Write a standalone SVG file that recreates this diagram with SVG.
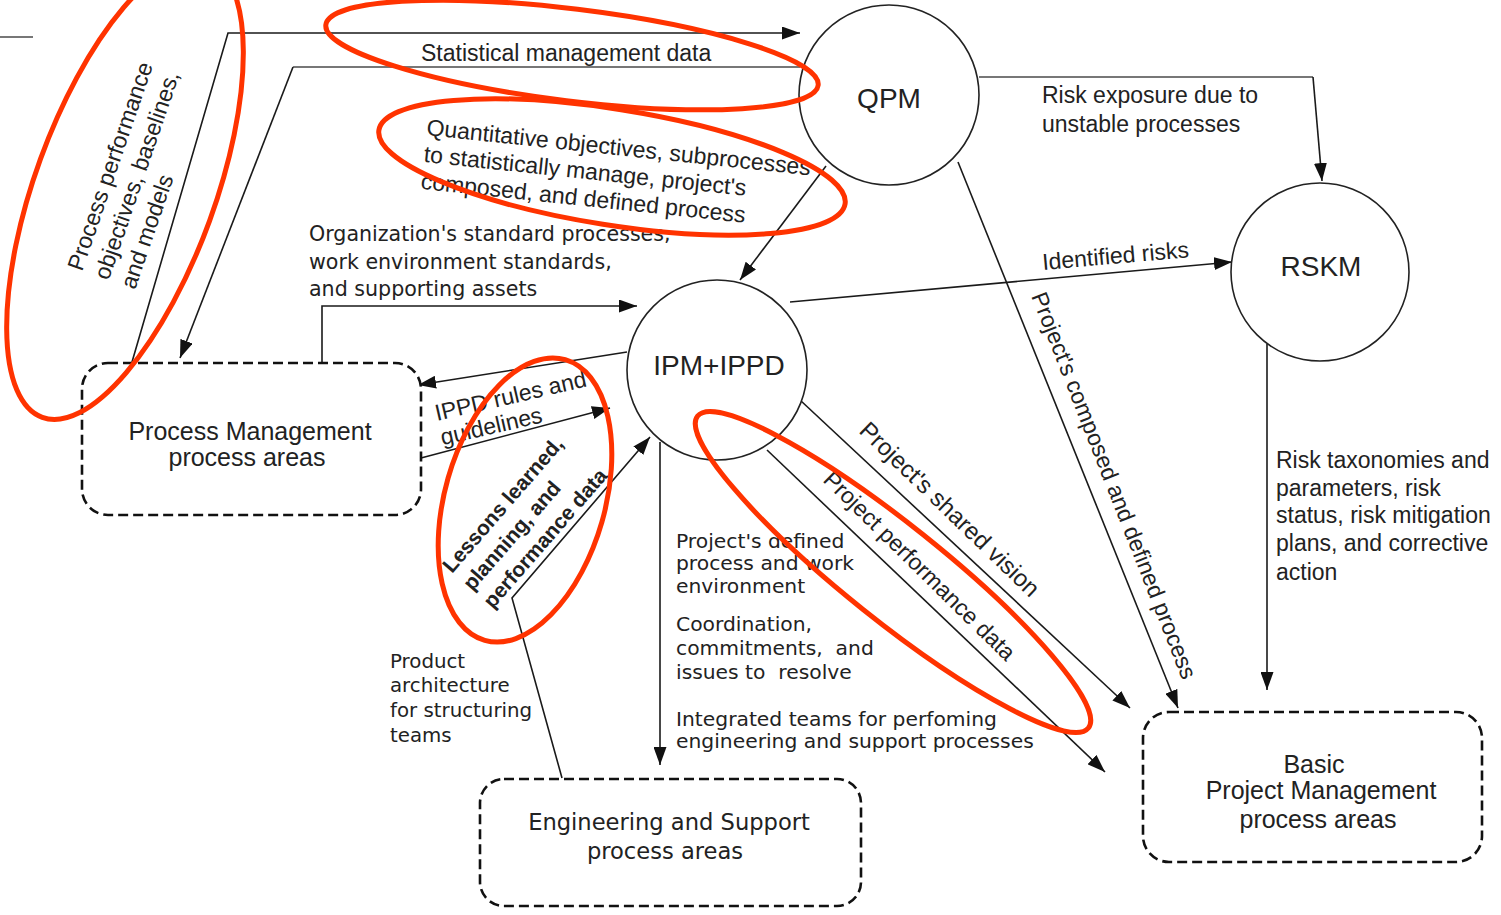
<svg xmlns="http://www.w3.org/2000/svg" width="1501" height="915" viewBox="0 0 1501 915">
  <defs>
    <style>
      .circ { fill: #fff; stroke: #222; stroke-width: 1.6; }
      .box { fill: #fff; stroke: #111; stroke-width: 2.6; stroke-dasharray: 10 5; }
      .edge { fill: none; stroke: #1a1a1a; stroke-width: 1.6; }
      .edge-light { fill: none; stroke: #777; stroke-width: 1.8; }
      .lbl { font-family: "Liberation Sans", Arial, sans-serif; font-size: 23px; fill: #222; }
      .vlbl { font-family: "DejaVu Sans", Verdana, sans-serif; font-size: 20.3px; fill: #222; }
      .name { font-family: "Liberation Sans", Arial, sans-serif; font-size: 28px; fill: #222; text-anchor: middle; }
      .boxlbl { font-family: "Liberation Sans", Arial, sans-serif; font-size: 25px; fill: #222; text-anchor: middle; }
      .mark { fill: none; stroke: #ff3300; stroke-width: 5; }
    </style>
    <marker id="ah" viewBox="0 0 18 13" refX="18" refY="6.5" markerWidth="18" markerHeight="13" markerUnits="userSpaceOnUse" orient="auto">
      <path d="M0,0 L18,6.5 L0,13 z" fill="#111"/>
    </marker>
  </defs>

  <rect x="0" y="0" width="1501" height="915" fill="#fff"/>

  <!-- connectors -->
  <g id="connectors">
    <line class="edge-light" x1="0" y1="37" x2="33" y2="37"/>
    <!-- Process Management -> QPM -->
    <polyline class="edge" points="132,362 228,33 800,33" marker-end="url(#ah)"/>
    <!-- QPM -> Process Management -->
    <line class="edge-light" x1="800" y1="67" x2="293" y2="67"/>
    <line class="edge" x1="293" y1="67" x2="180" y2="358" marker-end="url(#ah)"/>
    <!-- QPM -> RSKM -->
    <polyline class="edge-light" points="979,77 1313,77"/>
    <line class="edge" x1="1313" y1="77" x2="1322" y2="181" marker-end="url(#ah)"/>
    <!-- QPM -> IPM+IPPD -->
    <line class="edge" x1="826" y1="166" x2="740" y2="280" marker-end="url(#ah)"/>
    <!-- QPM -> Basic PM -->
    <line class="edge" x1="958" y1="162" x2="1178" y2="708" marker-end="url(#ah)"/>
    <!-- IPM+IPPD -> RSKM -->
    <line class="edge" x1="790" y1="302" x2="1232" y2="262" marker-end="url(#ah)"/>
    <!-- RSKM -> Basic PM -->
    <line class="edge" x1="1267" y1="344" x2="1267" y2="690" marker-end="url(#ah)"/>
    <!-- Process Management -> IPM+IPPD (standard processes) -->
    <polyline class="edge" points="322,362 322,306 637,306" marker-end="url(#ah)"/>
    <!-- IPM+IPPD -> Process Management -->
    <line class="edge" x1="627" y1="352" x2="418" y2="385" marker-end="url(#ah)"/>
    <!-- Process Management -> IPM+IPPD -->
    <line class="edge" x1="421" y1="458" x2="610" y2="408" marker-end="url(#ah)"/>
    <!-- Engineering -> IPM+IPPD -->
    <polyline class="edge" points="562,778 512,598 650,437" marker-end="url(#ah)"/>
    <!-- IPM+IPPD -> Engineering -->
    <line class="edge" x1="660" y1="442" x2="660" y2="765" marker-end="url(#ah)"/>
    <!-- IPM+IPPD -> Basic PM -->
    <line class="edge" x1="800" y1="400" x2="1130" y2="708" marker-end="url(#ah)"/>
    <line class="edge" x1="767" y1="450" x2="1105" y2="772" marker-end="url(#ah)"/>
  </g>

  <!-- connector labels -->
  <g id="edge-labels">
    <text class="lbl" x="421" y="61">Statistical management data</text>
    <text class="lbl" transform="translate(82,272) rotate(-71)">
      <tspan x="0" y="0">Process performance</tspan>
      <tspan x="0" y="28">objectives, baselines,</tspan>
      <tspan x="0" y="56">and models</tspan>
    </text>
    <text class="lbl" transform="translate(426,135) rotate(6)">
      <tspan x="0" y="0">Quantitative objectives, subprocesses</tspan>
      <tspan x="0" y="27">to statistically manage, project's</tspan>
      <tspan x="0" y="54">composed, and defined process</tspan>
    </text>
    <text class="lbl" x="1042" y="103">Risk exposure due to</text>
    <text class="lbl" x="1042" y="132">unstable processes</text>
    <text class="vlbl" style="font-size:20.6px" x="309" y="241">Organization's standard processes,</text>
    <text class="vlbl" style="font-size:20.6px" x="309" y="269">work environment standards,</text>
    <text class="vlbl" style="font-size:20.6px" x="309" y="296">and supporting assets</text>
    <text class="lbl" transform="translate(1043,270) rotate(-5)">Identified risks</text>
    <text class="lbl" transform="translate(1031,296) rotate(68.5)">Project's composed and defined process</text>
    <text class="lbl" x="1276" y="468">Risk taxonomies and</text>
    <text class="lbl" x="1276" y="496">parameters, risk</text>
    <text class="lbl" x="1276" y="523">status, risk mitigation</text>
    <text class="lbl" x="1276" y="551">plans, and corrective</text>
    <text class="lbl" x="1276" y="580">action</text>
    <text class="lbl" transform="translate(437,421) rotate(-13)">
      <tspan x="0" y="0">IPPD rules and</tspan>
      <tspan x="0" y="25">guidelines</tspan>
    </text>
    <text class="lbl" style="font-size:21px; font-weight:bold" transform="translate(452,574) rotate(-49)">
      <tspan x="0" y="0">Lessons learned,</tspan>
      <tspan x="0" y="27">planning, and</tspan>
      <tspan x="0" y="54">performance data</tspan>
    </text>
    <text class="vlbl" style="font-size:19.8px" x="390" y="668">Product</text>
    <text class="vlbl" style="font-size:19.8px" x="390" y="692">architecture</text>
    <text class="vlbl" style="font-size:19.8px" x="390" y="717">for structuring</text>
    <text class="vlbl" style="font-size:19.8px" x="390" y="742">teams</text>
    <text class="vlbl" x="676" y="548">Project's defined</text>
    <text class="vlbl" x="676" y="570">process and work</text>
    <text class="vlbl" x="676" y="593">environment</text>
    <text class="vlbl" x="676" y="631">Coordination,</text>
    <text class="vlbl" x="676" y="655" style="white-space:pre">commitments,  and</text>
    <text class="vlbl" x="676" y="679" style="white-space:pre">issues to  resolve</text>
    <text class="vlbl" x="676" y="726">Integrated teams for perfoming</text>
    <text class="vlbl" x="676" y="748">engineering and support processes</text>
    <text class="lbl" style="font-size:24px" transform="translate(858,432) rotate(44)">Project's shared vision</text>
    <text class="lbl" transform="translate(822,481) rotate(44.5)">Project performance data</text>
  </g>

  <!-- nodes -->
  <g id="qpm">
    <circle class="circ" cx="889" cy="95" r="90"/>
    <text class="name" x="889" y="108">QPM</text>
  </g>
  <g id="rskm">
    <circle class="circ" cx="1320" cy="272" r="89"/>
    <text class="name" x="1321" y="276">RSKM</text>
  </g>
  <g id="ipm-ippd">
    <circle class="circ" cx="717" cy="370" r="90"/>
    <text class="name" x="719" y="375">IPM+IPPD</text>
  </g>
  <g id="process-management">
    <rect class="box" x="82" y="363" width="339" height="152" rx="26"/>
    <text class="boxlbl" x="250" y="440">Process Management</text>
    <text class="boxlbl" x="247" y="466">process areas</text>
  </g>
  <g id="engineering-support">
    <rect class="box" x="480" y="779" width="381" height="127" rx="24"/>
    <text class="vlbl" style="font-size:22.6px; text-anchor:middle" x="669" y="830">Engineering and Support</text>
    <text class="vlbl" style="font-size:22.6px; text-anchor:middle" x="665" y="859">process areas</text>
  </g>
  <g id="basic-pm">
    <rect class="box" x="1143" y="712" width="339" height="150" rx="26"/>
    <text class="boxlbl" x="1314" y="773">Basic</text>
    <text class="boxlbl" x="1321" y="799">Project Management</text>
    <text class="boxlbl" x="1318" y="828">process areas</text>
  </g>

  <!-- highlight rings -->
  <g id="highlights">
    <ellipse class="mark" cx="125" cy="190" rx="242" ry="90" transform="rotate(-70 125 190)"/>
    <ellipse class="mark" cx="572" cy="55" rx="248" ry="46" transform="rotate(7 572 55)"/>
    <ellipse class="mark" cx="612" cy="167" rx="236" ry="58" transform="rotate(9 612 167)"/>
    <ellipse class="mark" cx="525" cy="500" rx="146" ry="80" transform="rotate(-74 525 500)"/>
    <ellipse class="mark" cx="893" cy="572" rx="250" ry="48" transform="rotate(38.6 893 572)"/>
  </g>
</svg>
